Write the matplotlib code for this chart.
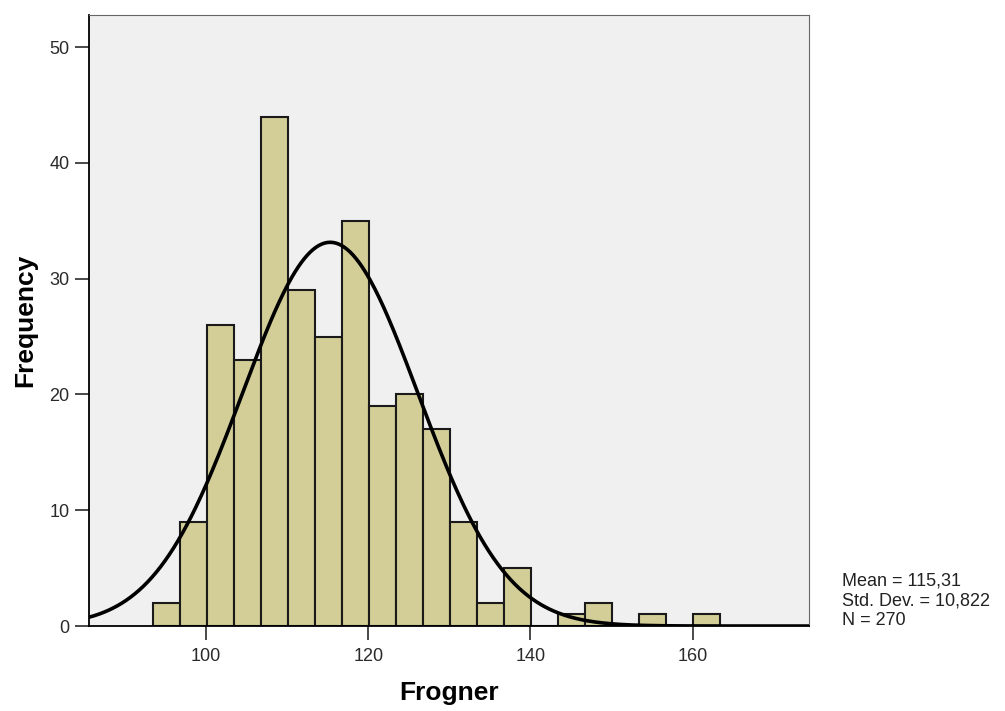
import numpy as np
import matplotlib
matplotlib.use("Agg")
from matplotlib import pyplot as plt

plt.rcParams['font.family'] = ['Liberation Sans', 'DejaVu Sans']

# histogram bins
bin_start = 93.4
bin_width = 3.33
counts = [2, 9, 26, 23, 44, 29, 25, 35, 19, 20, 17, 9, 2, 5, 0, 1, 2, 0, 1, 0, 1]
mean = 115.31
std = 10.822
n = 270
x_ticks = [100, 120, 140, 160]
y_ticks = [0, 10, 20, 30, 40, 50]

edges = bin_start + bin_width * np.arange(len(counts) + 1)

fig = plt.figure(figsize=(10.05, 7.11), dpi=100)
ax = fig.add_axes([0.0886, 0.1195, 0.7167, 0.8598])
ax.set_facecolor('#f0f0f0')

ax.bar(edges[:-1], counts, width=bin_width, align='edge',
       color='#d3ce97', edgecolor='#1a1a1a', linewidth=1.5, zorder=2)

xs = np.linspace(85.5, 174.5, 500)
ys = n * bin_width / (std * np.sqrt(2 * np.pi)) * np.exp(-0.5 * ((xs - mean) / std) ** 2)
ax.plot(xs, ys, color='black', linewidth=2.6, zorder=3)

ax.set_xlim(85.57, 174.4)
ax.set_ylim(0, 52.8)
ax.set_xticks(x_ticks)
ax.set_yticks(y_ticks)
ax.tick_params(axis='both', direction='out', length=10, width=1.2, pad=4,
               labelsize=13, colors='#2a2a2a')
ax.tick_params(axis='x', pad=6)
ax.spines['left'].set_linewidth(1.3)
ax.spines['bottom'].set_linewidth(1.3)
ax.spines['top'].set_color('#666666')
ax.spines['right'].set_color('#666666')

ax.set_xlabel('Frogner', fontsize=19, fontweight='bold', labelpad=11)
ax.set_ylabel('Frequency', fontsize=19, fontweight='bold', labelpad=9)

fig.text(0.838, 0.121, 'Mean = 115,31\nStd. Dev. = 10,822\nN = 270',
         fontsize=13, color='#222222', va='baseline', ha='left', linespacing=1.22)

fig.savefig('out.png', dpi=100)
